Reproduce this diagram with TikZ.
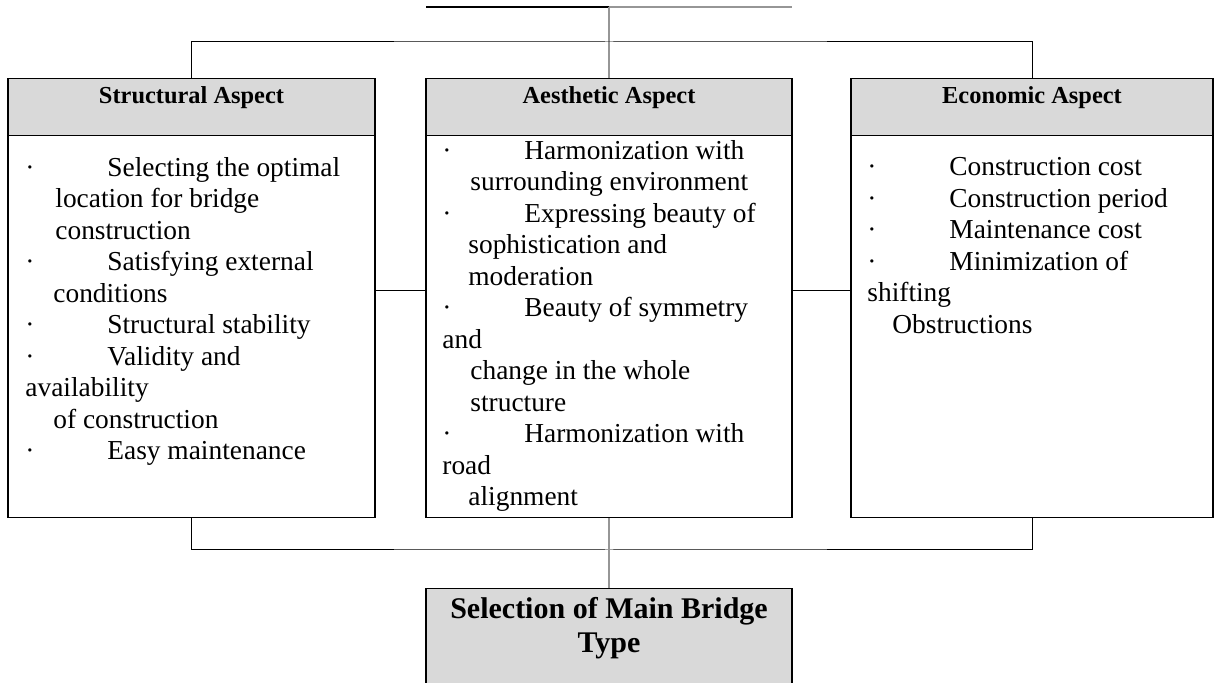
\documentclass[tikz,border=0pt]{standalone}
\usepackage{fontspec}
\setmainfont{Liberation Serif}
\usepackage{tikz}
\usetikzlibrary{positioning,calc}
\definecolor{hdrfill}{RGB}{217,217,217}
\definecolor{midline}{RGB}{150,150,150}
\newcommand{\itm}{\makebox[41pt][l]{·}}

\begin{document}
\begin{tikzpicture}[x=0.5pt,y=0.5pt,
  hdr/.style={draw, line width=0.7pt, fill=hdrfill, anchor=north, inner ysep=0pt,
    minimum height=28.5pt, text height=12.5pt, text depth=16pt,
    font=\fontsize{12.2}{14}\selectfont\bfseries},
  bodybox/.style={draw, line width=0.7pt, anchor=north, minimum height=191pt},
  lst/.style={anchor=north west, align=left, inner sep=0pt,
    font=\fontsize{13.7}{15.75}\selectfont},
  conn/.style={line width=0.5pt},
  cconn/.style={line width=0.6pt, midline}]
\useasboundingbox (0,0) rectangle (1215,-683);
\clip (0,0) rectangle (1215,-683);
%% ---- top bar ----
\coordinate (topL) at (426,-7);
\coordinate (topM) at (609,-7);
\coordinate (topR) at (792,-7);
\draw[line width=1pt] (topL) -- (topM);
\draw[cconn] (topM) -- (topR);
%% ---- three aspects ----
\node[hdr, minimum width=183.5pt] (strHead) at (191.5,-78) {Structural Aspect};
\node[bodybox, minimum width=183.5pt] (strBody) at (191.5,-135) {};
\node[hdr, minimum width=183pt] (aesHead) at (609,-78) {Aesthetic Aspect};
\node[bodybox, minimum width=183pt] (aesBody) at (609,-135) {};
\node[hdr, minimum width=181pt] (ecoHead) at (1032,-78) {Economic Aspect};
\node[bodybox, minimum width=181pt] (ecoBody) at (1032,-135) {};
\node[lst] (strList) at (25,-157) {\itm Selecting the optimal\\
  \hspace*{15pt}location for bridge\\
  \hspace*{15pt}construction\\
  \itm Satisfying external\\
  \hspace*{14pt}conditions\\
  \itm Structural stability\\
  \itm Validity and\\
  availability\\
  \hspace*{14pt}of construction\\
  \itm Easy maintenance};
\node[lst] (aesList) at (442,-140) {\itm Harmonization with\\
  \hspace*{14pt}surrounding environment\\
  \itm Expressing beauty of\\
  \hspace*{13pt}sophistication and\\
  \hspace*{13pt}moderation\\
  \itm Beauty of symmetry\\
  and\\
  \hspace*{14pt}change in the whole\\
  \hspace*{14pt}structure\\
  \itm Harmonization with\\
  road\\
  \hspace*{13pt}alignment};
\node[lst] (ecoList) at (867,-157) {\itm Construction cost\\
  \itm Construction period\\
  \itm Maintenance cost\\
  \itm Minimization of\\
  shifting\\
  \hspace*{12.5pt}Obstructions};
%% ---- result ----
\node[draw, line width=0.7pt, fill=hdrfill, anchor=north, minimum width=183pt,
  minimum height=60pt] (sel) at (609,-588) {};
\node[anchor=north, align=center, inner sep=0pt,
  font=\fontsize{15}{17}\selectfont\bfseries] (selLbl) at (609,-597)
  {Selection of Main Bridge\\Type};
%% ---- connectors ----
\coordinate (jTop) at (609,-42);
\coordinate (jMid) at (609,-291);
\coordinate (jBot) at (609,-550);
\draw[cconn] (topM) -- (aesHead.north);
\draw[conn] (strHead.north) |- (jTop) -| (ecoHead.north);
\draw[conn] (strBody.east |- jMid) -- (aesBody.west |- jMid);
\draw[conn] (aesBody.east |- jMid) -- (ecoBody.west |- jMid);
\draw[conn] (strBody.south) |- (jBot) -| (ecoBody.south);
\draw[cconn] (aesBody.south) -- (sel.north);
\end{tikzpicture}
\end{document}
